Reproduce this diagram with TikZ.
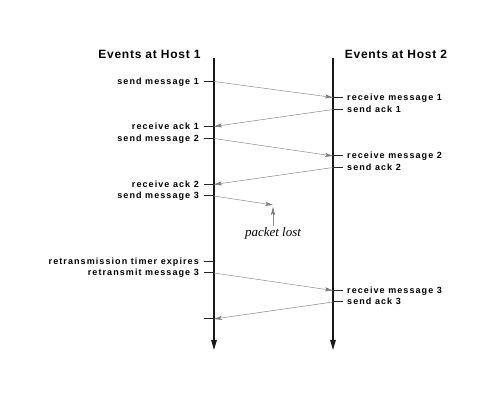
\documentclass[tikz,border=0pt]{standalone}
\usepackage{fontspec}
\setmainfont{Liberation Serif}
\newfontfamily\labfont[LetterSpace=12]{Liberation Sans}
\newfontfamily\titfont[LetterSpace=6]{Liberation Sans}
\usetikzlibrary{arrows.meta}
\begin{document}
\begin{tikzpicture}[x=1pt,y=-1pt,
  host/.style={line width=1.2pt,draw=black!90,-{Triangle[length=10pt,width=5.5pt]}},
  tick/.style={line width=1pt,draw=black!85},
  msg/.style={line width=0.5pt,draw=black!45,-{Stealth[length=8pt,width=4pt,inset=2pt,color=black!55,fill=black!45]}},
  titlab/.style={font=\titfont\bfseries\fontsize{12}{14}\selectfont,inner sep=0pt,anchor=base},
  lableft/.style={font=\labfont\bfseries\fontsize{9}{11}\selectfont,inner sep=0pt,anchor=base east,xshift=-15pt,yshift=-3pt},
  labright/.style={font=\labfont\bfseries\fontsize{9}{11}\selectfont,inner sep=0pt,anchor=base west,xshift=14pt,yshift=-3pt},
  lostlab/.style={font=\itshape\fontsize{13}{15}\selectfont,inner sep=1pt}]
\useasboundingbox (0,0) rectangle (499,401);
\node[titlab] (t1) at (149.5,59) {Events at Host 1};
\node[titlab] (t2) at (396,59) {Events at Host 2};
\coordinate (h1top) at (214,58);
\coordinate (h1bot) at (214,350);
\coordinate (h2top) at (333,58);
\coordinate (h2bot) at (333,350);
\draw[host] (h1top) -- (h1bot);
\draw[host] (h2top) -- (h2bot);
% host 1 events
\coordinate (a1) at (214,81.5);
\coordinate (a2) at (214,126.5);
\coordinate (a3) at (214,138.5);
\coordinate (a4) at (214,184.5);
\coordinate (a5) at (214,196);
\coordinate (a6) at (214,261.5);
\coordinate (a7) at (214,273);
\coordinate (a8) at (214,319);
% host 2 events
\coordinate (b1) at (333,97.5);
\coordinate (b2) at (333,109.5);
\coordinate (b3) at (333,156);
\coordinate (b4) at (333,167.5);
\coordinate (b5) at (333,290.5);
\coordinate (b6) at (333,302);
\foreach \p in {a1,a2,a3,a4,a5,a6,a7,a8} {\draw[tick] (\p) -- ++(-10,0);}
\foreach \p in {b1,b2,b3,b4,b5,b6} {\draw[tick] (\p) -- ++(10,0);}
\node[lableft] (la1) at (a1) {send message 1};
\node[lableft] (la2) at (a2) {receive ack 1};
\node[lableft] (la3) at (a3) {send message 2};
\node[lableft] (la4) at (a4) {receive ack 2};
\node[lableft] (la5) at (a5) {send message 3};
\node[lableft] (la6) at (a6) {retransmission timer expires};
\node[lableft] (la7) at (a7) {retransmit message 3};
\node[labright] (lb1) at (b1) {receive message 1};
\node[labright] (lb2) at (b2) {send ack 1};
\node[labright] (lb3) at (b3) {receive message 2};
\node[labright] (lb4) at (b4) {send ack 2};
\node[labright] (lb5) at (b5) {receive message 3};
\node[labright] (lb6) at (b6) {send ack 3};
% messages
\draw[msg] (a1) -- (b1);
\draw[msg] (b2) -- (a2);
\draw[msg] (a3) -- (b3);
\draw[msg] (b4) -- (a4);
\coordinate (lost) at (273,205);
\draw[msg] (a5) -- (lost);
\node[lostlab] (pl) at (273,233) {packet lost};
\coordinate (lostup) at (273,207);
\draw[msg] (pl.north) -- (lostup);
\draw[msg] (a7) -- (b5);
\draw[msg] (b6) -- (a8);
\end{tikzpicture}
\end{document}
